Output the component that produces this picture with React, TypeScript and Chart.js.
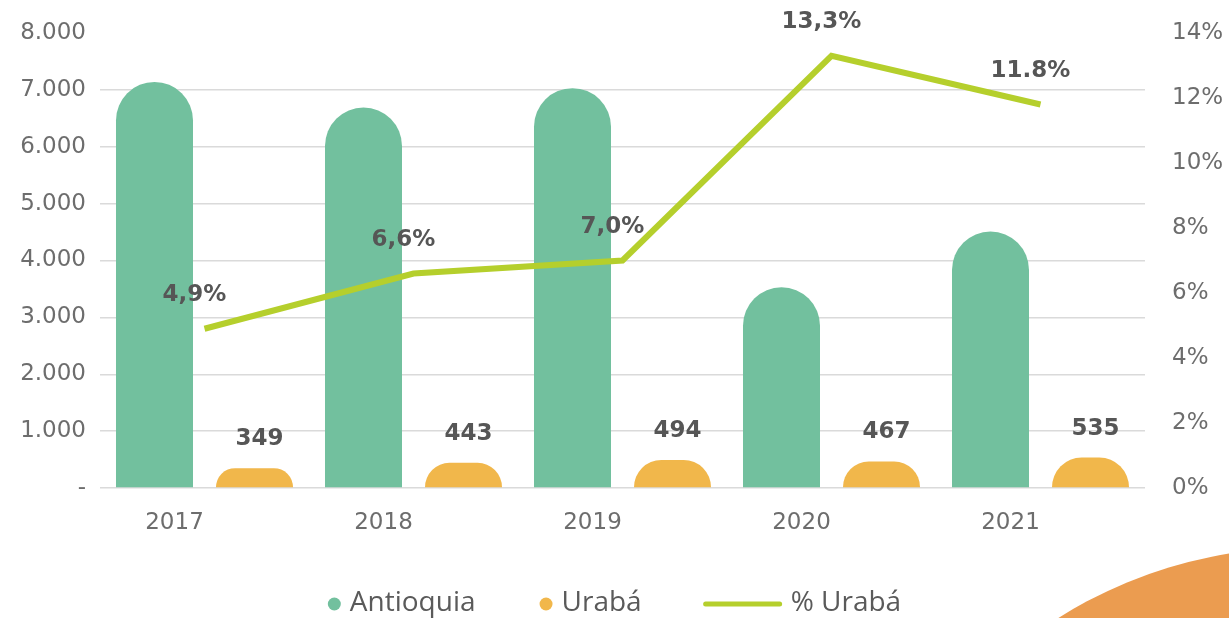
import React, { useEffect, useRef } from 'react';
import { Chart, registerables } from 'chart.js';

Chart.register(...registerables);

// ---- Data ----
const years = ['2017', '2018', '2019', '2020', '2021'];
const antioquia = [7140, 6690, 7030, 3530, 4510];
const uraba = [349, 443, 494, 467, 535];
const pctUraba = [4.9, 6.6, 7.0, 13.3, 11.8];
const pctLabels = ['4,9%', '6,6%', '7,0%', '13,3%', '11.8%'];
const leftTickLabels = ['-', '1.000', '2.000', '3.000', '4.000', '5.000', '6.000', '7.000', '8.000'];
const rightTickLabels = ['0%', '2%', '4%', '6%', '8%', '10%', '12%', '14%'];
const seriesNames = ['Antioquia', 'Urabá', '% Urabá'];

// ---- Styles ----
const GREEN = '#72c09e';
const ORANGE = '#f1b74b';
const LIME = '#b5cf2c';
const TICK_COLOR = '#6d6d6d';
const LABEL_COLOR = '#565656';
const GRID_COLOR = '#dadada';
const TICK_FONT = { family: 'DejaVu Sans', size: 23, weight: 'normal' as const };

const W = 1229;
const H = 618;

const decorPlugin = {
  id: 'decor',
  beforeDraw(chart: any) {
    const ctx = chart.ctx;
    ctx.save();
    ctx.fillStyle = '#ffffff';
    ctx.fillRect(0, 0, chart.width, chart.height);
    ctx.beginPath();
    ctx.arc(1300, 1000, 452, 0, Math.PI * 2);
    ctx.fillStyle = '#eb9c50';
    ctx.fill();
    ctx.restore();
  },
};

const roundedBarsPlugin = {
  id: 'roundedBars',
  beforeDatasetDraw(chart: any, args: any) {
    const meta = args.meta;
    if (meta.type !== 'bar') return;
    const ds = chart.data.datasets[args.index];
    const ctx = chart.ctx;
    ctx.save();
    ctx.fillStyle = ds.backgroundColor;
    meta.data.forEach((el: any) => {
      const { x, y, base, width } = el.getProps(['x', 'y', 'base', 'width'], true);
      const left = x - width / 2;
      const right = x + width / 2;
      const h = base - y;
      if (h <= 0) return;
      const r = Math.min(width / 2, h);
      ctx.beginPath();
      ctx.moveTo(left, base);
      ctx.lineTo(left, y + r);
      ctx.arcTo(left, y, left + r, y, r);
      ctx.lineTo(right - r, y);
      ctx.arcTo(right, y, right, y + r, r);
      ctx.lineTo(right, base);
      ctx.closePath();
      ctx.fill();
    });
    ctx.restore();
    return false;
  },
};

const labelsPlugin = {
  id: 'valueLabels',
  afterDatasetsDraw(chart: any) {
    const ctx = chart.ctx;
    ctx.save();
    ctx.fillStyle = LABEL_COLOR;
    ctx.font = 'bold 23px "DejaVu Sans"';
    ctx.textAlign = 'center';
    ctx.textBaseline = 'alphabetic';
    const barMeta = chart.getDatasetMeta(1);
    barMeta.data.forEach((el: any, i: number) => {
      const { x, y } = el.getProps(['x', 'y'], true);
      ctx.fillText(String(uraba[i]), x + 5, y - 23);
    });
    const lineMeta = chart.getDatasetMeta(2);
    lineMeta.data.forEach((el: any, i: number) => {
      const { x, y } = el.getProps(['x', 'y'], true);
      ctx.fillText(pctLabels[i], x - 10, y - 28);
    });
    ctx.restore();
  },
};

const legendPlugin = {
  id: 'customLegend',
  afterDraw(chart: any) {
    const ctx = chart.ctx;
    ctx.save();
    ctx.font = '28px "Open Sans"';
    ctx.textBaseline = 'middle';
    ctx.textAlign = 'left';
    const cy = 603;
    const dotR = 6.5;
    const lineLen = 74;
    const items = chart.data.datasets.map((ds: any) => ({
      label: ds.label,
      color: ds.type === 'line' ? ds.borderColor : ds.backgroundColor,
      isLine: ds.type === 'line',
    }));
    const widths = items.map((it: any) => {
      const tw = ctx.measureText(it.label).width;
      return it.isLine ? lineLen + 11 + tw : dotR * 2 + 9 + tw;
    });
    const gap = 64;
    const total = widths.reduce((a: number, b: number) => a + b, 0) + gap * (items.length - 1);
    let x = chart.width / 2 - total / 2;
    items.forEach((it: any, i: number) => {
      if (it.isLine) {
        ctx.strokeStyle = it.color;
        ctx.lineWidth = 5;
        ctx.lineCap = 'round';
        ctx.beginPath();
        ctx.moveTo(x, cy + 1);
        ctx.lineTo(x + lineLen, cy + 1);
        ctx.stroke();
        ctx.fillStyle = '#5a5a5a';
        ctx.fillText(it.label, x + lineLen + 11, cy);
      } else {
        ctx.fillStyle = it.color;
        ctx.beginPath();
        ctx.arc(x + dotR, cy + 1, dotR, 0, Math.PI * 2);
        ctx.fill();
        ctx.fillStyle = '#5a5a5a';
        ctx.fillText(it.label, x + dotR * 2 + 9, cy);
      }
      x += widths[i] + gap;
    });
    ctx.restore();
  },
};

export default function App() {
  const canvasRef = useRef<HTMLCanvasElement | null>(null);

  useEffect(() => {
    document.body.style.margin = '0';
    const canvas = canvasRef.current;
    if (!canvas) return;
    const chart = new Chart(canvas, {
      type: 'bar',
      data: {
        labels: years,
        datasets: [
          {
            type: 'bar',
            label: seriesNames[0],
            data: antioquia,
            backgroundColor: GREEN,
            categoryPercentage: 0.957,
            barPercentage: 0.77,
            yAxisID: 'y',
            order: 1,
          } as any,
          {
            type: 'bar',
            label: seriesNames[1],
            data: uraba,
            backgroundColor: ORANGE,
            categoryPercentage: 0.957,
            barPercentage: 0.77,
            yAxisID: 'y',
            order: 1,
          } as any,
          {
            type: 'line',
            label: seriesNames[2],
            data: pctUraba,
            borderColor: LIME,
            backgroundColor: LIME,
            borderWidth: 6,
            pointRadius: 0,
            pointHoverRadius: 0,
            tension: 0,
            yAxisID: 'y1',
            order: 0,
          } as any,
        ],
      },
      options: {
        responsive: false,
        animation: false,
        devicePixelRatio: 1,
        layout: { padding: { top: 33, bottom: 80, left: 0, right: 0 } },
        plugins: {
          legend: { display: false },
          tooltip: { enabled: false },
        },
        scales: {
          x: {
            grid: { display: false, drawTicks: false },
            border: { display: false },
            ticks: {
              font: TICK_FONT,
              color: TICK_COLOR,
              padding: 21,
              labelOffset: -30,
              maxRotation: 0,
            },
            afterFit: (s: any) => {
              s.height = 50;
            },
          },
          y: {
            position: 'left',
            min: 0,
            max: 8000,
            ticks: {
              stepSize: 1000,
              font: TICK_FONT,
              color: TICK_COLOR,
              padding: 14,
              callback: (_v: any, i: number) => leftTickLabels[i],
            },
            grid: {
              color: (c: any) => (c.tick && c.tick.value === 8000 ? 'rgba(0,0,0,0)' : GRID_COLOR),
              lineWidth: 1.5,
              drawTicks: false,
            },
            border: { display: false },
            afterFit: (s: any) => {
              s.width = 100;
              s.paddingTop = 14;
              s.paddingBottom = 14;
            },
          },
          y1: {
            position: 'right',
            min: 0,
            max: 14,
            ticks: {
              stepSize: 2,
              font: TICK_FONT,
              color: TICK_COLOR,
              padding: 27,
              callback: (_v: any, i: number) => rightTickLabels[i],
            },
            grid: { display: false, drawTicks: false },
            border: { display: false },
            afterFit: (s: any) => {
              s.width = 84;
              s.paddingTop = 14;
              s.paddingBottom = 14;
            },
          },
        },
      } as any,
      plugins: [decorPlugin, roundedBarsPlugin, labelsPlugin, legendPlugin],
    });
    return () => chart.destroy();
  }, []);

  return (
    <div style={{ width: W, height: H, position: 'relative', overflow: 'hidden', background: '#fff' }}>
      <canvas ref={canvasRef} width={W} height={H} style={{ display: 'block', width: W, height: H }} />
    </div>
  );
}
